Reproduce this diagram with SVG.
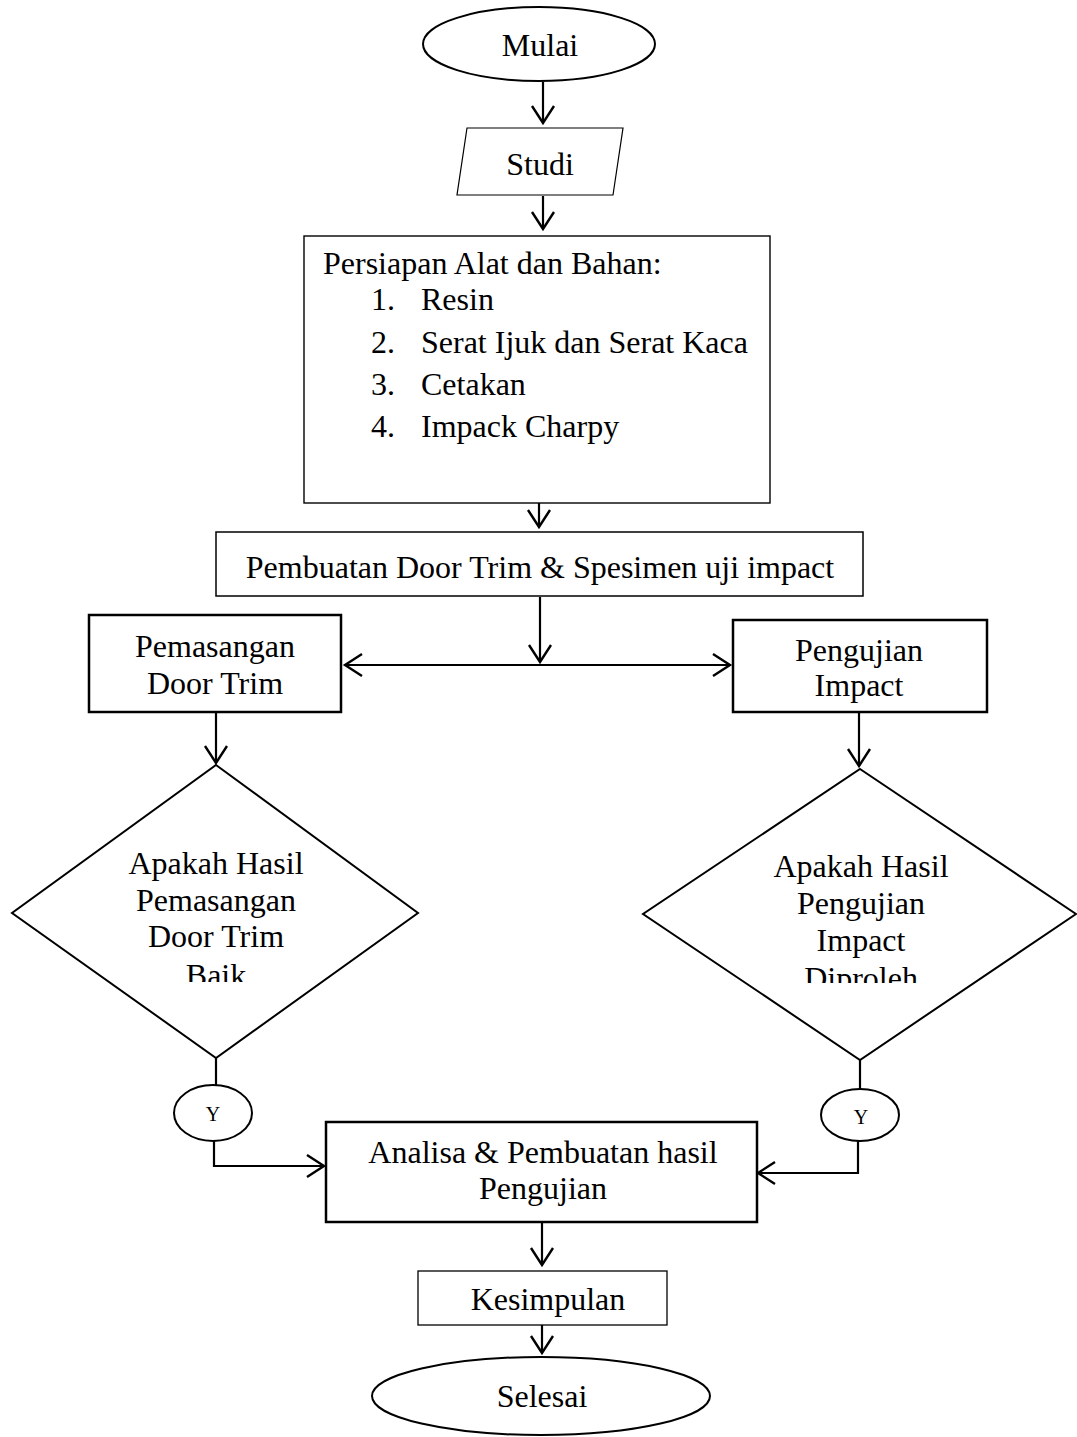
<svg xmlns="http://www.w3.org/2000/svg" width="1077" height="1437" viewBox="0 0 1077 1437">
<style>
text{font-family:"Liberation Serif","Times New Roman",serif;font-size:32px;fill:#000}
.c{text-anchor:middle}
.y{font-size:20px}
.shape{fill:#fff;stroke:#000}
.conn{fill:none;stroke:#000;stroke-width:2.2}
</style>
<defs>
<marker id="ah" markerUnits="userSpaceOnUse" markerWidth="24" markerHeight="28" viewBox="0 0 24 28" refX="20" refY="14" orient="auto-start-reverse">
<path d="M3,3 L20,14 L3,25" fill="none" stroke="#000" stroke-width="2.4"/>
</marker>
<clipPath id="clipL"><rect x="0" y="820" width="440" height="162"/></clipPath>
<clipPath id="clipR"><rect x="630" y="820" width="447" height="163"/></clipPath>
</defs>
<rect width="1077" height="1437" fill="#fff"/>

<g id="connectors">
<path class="conn" d="M543,82 L543,123" marker-end="url(#ah)"/>
<path class="conn" d="M543,196 L543,229" marker-end="url(#ah)"/>
<path class="conn" d="M539,503 L539,527" marker-end="url(#ah)"/>
<path class="conn" d="M540,597 L540,662" marker-end="url(#ah)"/>
<path class="conn" d="M345,665 L730,665" stroke-width="3" marker-start="url(#ah)" marker-end="url(#ah)"/>
<path class="conn" d="M216,712 L216,763" marker-end="url(#ah)"/>
<path class="conn" d="M859,713 L859,766" marker-end="url(#ah)"/>
<path class="conn" d="M216,1058 L216,1085"/>
<path class="conn" d="M860,1060 L860,1089"/>
<path class="conn" d="M214,1141 L214,1166 L324,1166" stroke-width="2.6" marker-end="url(#ah)"/>
<path class="conn" d="M858,1140 L858,1173 L758,1173" stroke-width="2.6" marker-end="url(#ah)"/>
<path class="conn" d="M542,1222 L542,1265" marker-end="url(#ah)"/>
<path class="conn" d="M542,1325 L542,1353" marker-end="url(#ah)"/>
</g>

<g id="mulai">
<ellipse class="shape" cx="539" cy="44" rx="116" ry="37" stroke-width="2"/>
<text class="c" x="540" y="56">Mulai</text>
</g>

<g id="studi">
<polygon class="shape" points="467,128 623,128 613,195 457,195" stroke-width="1.2"/>
<text class="c" x="540" y="175">Studi</text>
</g>

<g id="persiapan">
<rect class="shape" x="304" y="236" width="466" height="267" stroke-width="1.4"/>
<text x="323" y="274">Persiapan Alat dan Bahan:</text>
<text x="371" y="310">1.</text><text x="421" y="310">Resin</text>
<text x="371" y="353">2.</text><text x="421" y="353">Serat Ijuk dan Serat Kaca</text>
<text x="371" y="395">3.</text><text x="421" y="395">Cetakan</text>
<text x="371" y="437">4.</text><text x="421" y="437">Impack Charpy</text>
</g>

<g id="pembuatan">
<rect class="shape" x="216" y="532" width="647" height="64" stroke-width="1.5"/>
<text class="c" x="540" y="578">Pembuatan Door Trim &amp; Spesimen uji impact</text>
</g>

<g id="pemasangan">
<rect class="shape" x="89" y="615" width="252" height="97" stroke-width="2.5"/>
<text class="c" x="215" y="657">Pemasangan</text>
<text class="c" x="215" y="694">Door Trim</text>
</g>

<g id="pengujian">
<rect class="shape" x="733" y="620" width="254" height="92" stroke-width="2.5"/>
<text class="c" x="859" y="661">Pengujian</text>
<text class="c" x="859" y="696">Impact</text>
</g>

<g id="decision-left">
<polygon class="shape" points="216,765 418,913 216,1058 12,913" stroke-width="2"/>
<g clip-path="url(#clipL)">
<text class="c" x="216" y="874">Apakah Hasil</text>
<text class="c" x="216" y="911">Pemasangan</text>
<text class="c" x="216" y="947">Door Trim</text>
<text class="c" x="216" y="986">Baik</text>
</g>
</g>

<g id="decision-right">
<polygon class="shape" points="860,769 1076,914 860,1060 643,914" stroke-width="2"/>
<g clip-path="url(#clipR)">
<text class="c" x="861" y="877">Apakah Hasil</text>
<text class="c" x="861" y="914">Pengujian</text>
<text class="c" x="861" y="951">Impact</text>
<text class="c" x="861" y="989">Diproleh</text>
</g>
</g>

<g id="y-left">
<ellipse class="shape" cx="213" cy="1113" rx="39" ry="28" stroke-width="2"/>
<text class="c y" x="213" y="1121">Y</text>
</g>

<g id="y-right">
<ellipse class="shape" cx="860" cy="1115" rx="39" ry="26" stroke-width="2"/>
<text class="c y" x="861" y="1124">Y</text>
</g>

<g id="analisa">
<rect class="shape" x="326" y="1122" width="431" height="100" stroke-width="2.5"/>
<text class="c" x="543" y="1163">Analisa &amp; Pembuatan hasil</text>
<text class="c" x="543" y="1199">Pengujian</text>
</g>

<g id="kesimpulan">
<rect class="shape" x="418" y="1271" width="249" height="54" stroke-width="1.3"/>
<text class="c" x="548" y="1310">Kesimpulan</text>
</g>

<g id="selesai">
<ellipse class="shape" cx="541" cy="1396" rx="169" ry="39" stroke-width="2"/>
<text class="c" x="542" y="1407">Selesai</text>
</g>
</svg>
